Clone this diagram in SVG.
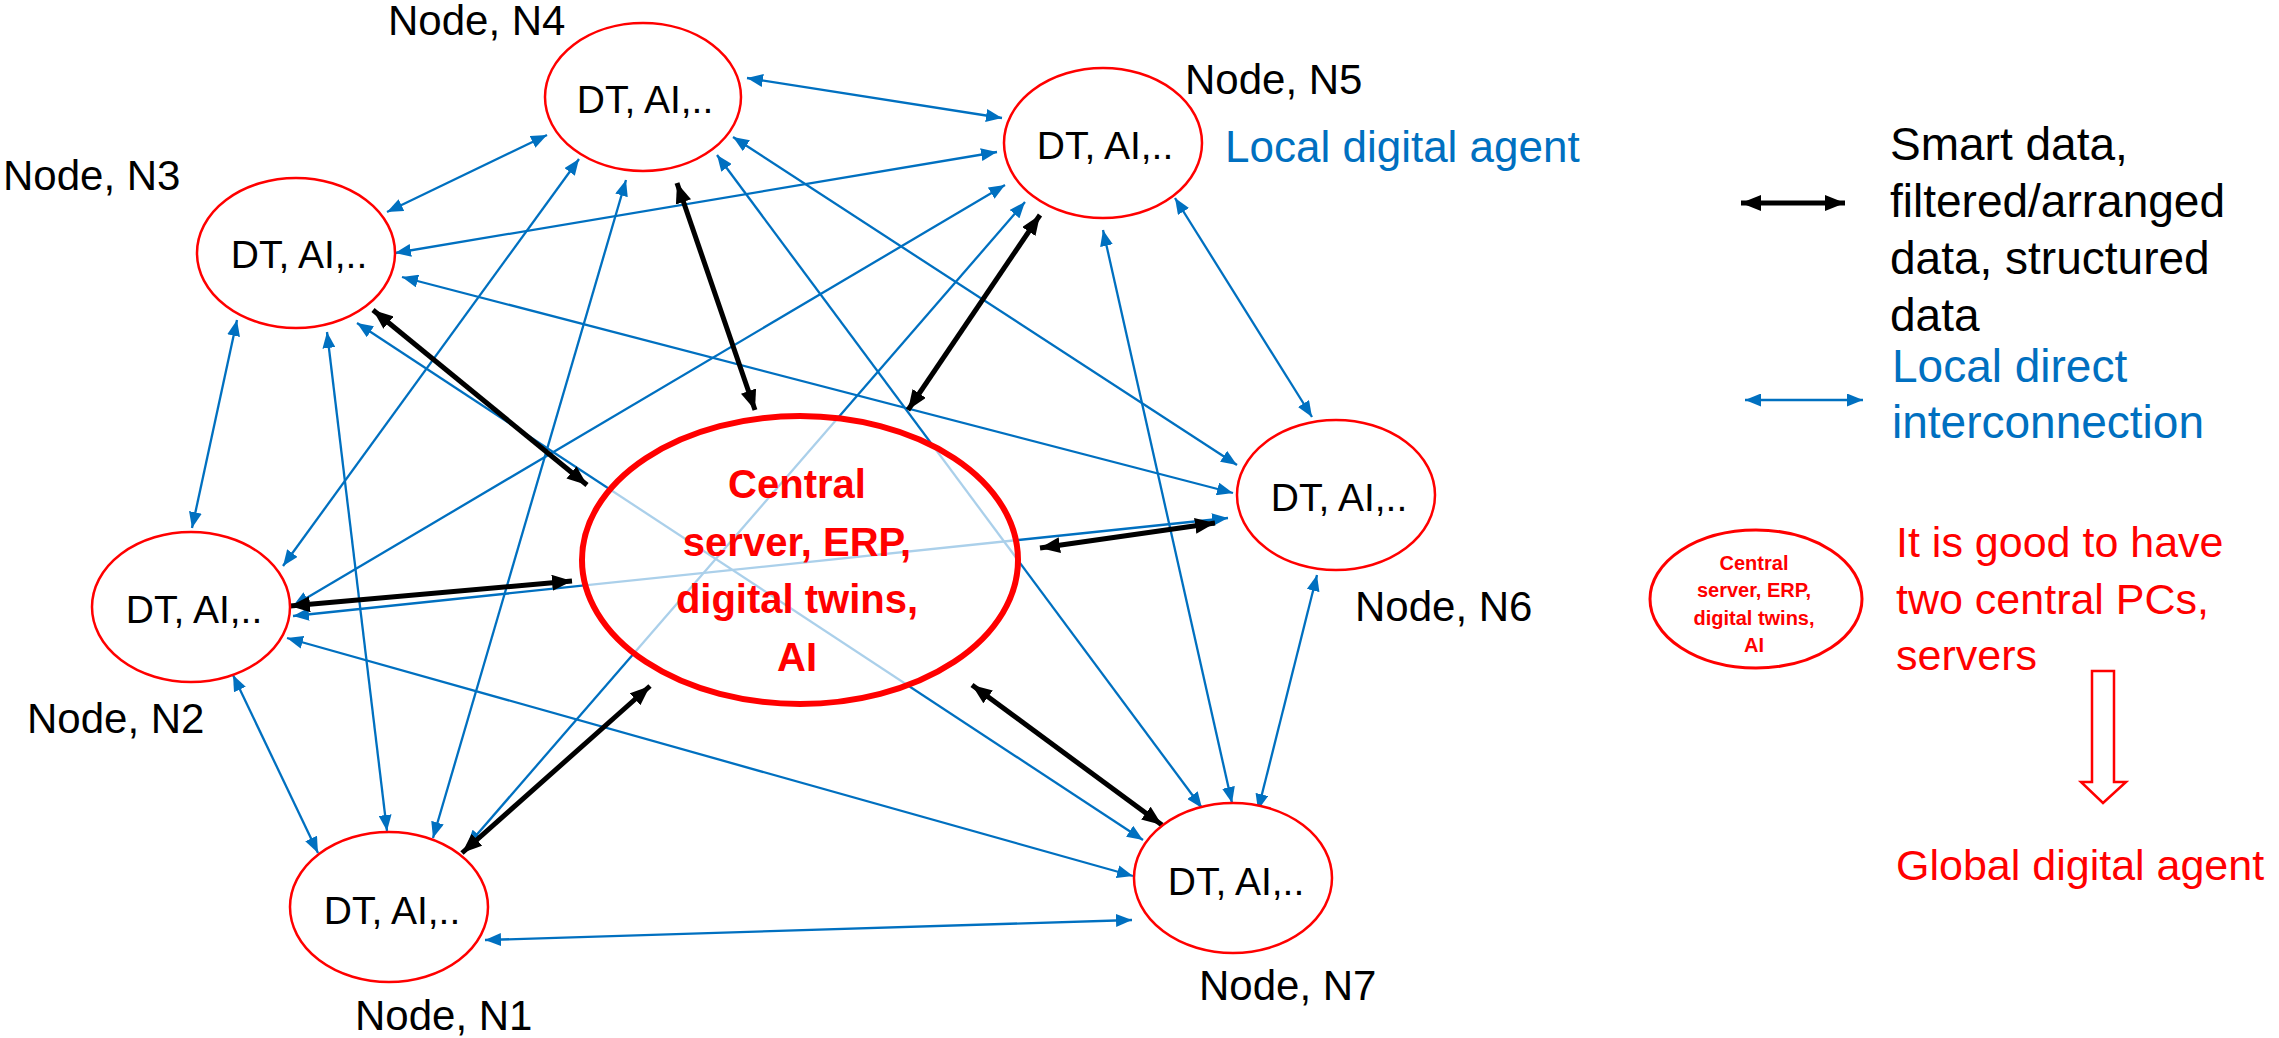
<svg xmlns="http://www.w3.org/2000/svg" width="2279" height="1038" viewBox="0 0 2279 1038">
<style>
  text { font-family: "Liberation Sans", Arial, sans-serif; }
  .node { fill: #ffffff; stroke: #FF0000; stroke-width: 2.5; }
  .dt { font-size: 39px; fill: #000; text-anchor: middle; }
  .lbl { font-size: 42px; fill: #000; }
  .blue { stroke: #0070C0; stroke-width: 2.3; fill: none; marker-start: url(#bh); marker-end: url(#bh); }
  .black { stroke: #000; stroke-width: 5; fill: none; marker-start: url(#kh); marker-end: url(#kh); }
  .ctr { font-size: 40px; font-weight: bold; fill: #FF0000; text-anchor: middle; }
  .leg { font-size: 46px; fill: #000; }
  .legb { font-size: 46px; fill: #0070C0; }
  .red { font-size: 43px; fill: #FF0000; }
  .sm { font-size: 20px; font-weight: bold; fill: #FF0000; text-anchor: middle; }
</style>
<defs>
  <marker id="bh" markerUnits="userSpaceOnUse" viewBox="0 0 16 13" markerWidth="16" markerHeight="13" refX="16" refY="6.5" orient="auto-start-reverse">
    <path d="M0,0 L16,6.5 L0,13 z" fill="#0070C0"/>
  </marker>
  <marker id="kh" markerUnits="userSpaceOnUse" viewBox="0 0 20 16" markerWidth="20" markerHeight="16" refX="20" refY="8" orient="auto-start-reverse">
    <path d="M0,0 L20,8 L0,16 z" fill="#000"/>
  </marker>
</defs>
<rect x="0" y="0" width="2279" height="1038" fill="#ffffff"/>

<g id="connectors">
  <line class="blue" x1="747" y1="78" x2="1002" y2="118"/>
  <line class="blue" x1="387" y1="212" x2="547" y2="135"/>
  <line class="blue" x1="395" y1="253" x2="997" y2="152"/>
  <line class="blue" x1="402" y1="277" x2="1233" y2="493"/>
  <line class="blue" x1="357" y1="323" x2="1143" y2="840"/>
  <line class="blue" x1="327" y1="332" x2="387" y2="831"/>
  <line class="blue" x1="237" y1="320" x2="192" y2="528"/>
  <line class="blue" x1="579" y1="159" x2="283" y2="566"/>
  <line class="blue" x1="626" y1="180" x2="433" y2="838"/>
  <line class="blue" x1="733" y1="137" x2="1237" y2="465"/>
  <line class="blue" x1="717" y1="155" x2="1202" y2="808"/>
  <line class="blue" x1="1005" y1="185" x2="293" y2="606"/>
  <line class="blue" x1="1025" y1="202" x2="467" y2="846"/>
  <line class="blue" x1="1175" y1="198" x2="1312" y2="417"/>
  <line class="blue" x1="1103" y1="230" x2="1232" y2="803"/>
  <line class="blue" x1="1317" y1="575" x2="1258" y2="810"/>
  <line class="blue" x1="1228" y1="518" x2="293" y2="616"/>
  <line class="blue" x1="1133" y1="876" x2="287" y2="638"/>
  <line class="blue" x1="1132" y1="920" x2="485" y2="940"/>
  <line class="blue" x1="233" y1="675" x2="318" y2="853"/>
</g>

<g id="central">
  <ellipse cx="800" cy="560" rx="218" ry="144" fill="#ffffff" fill-opacity="0.67" stroke="#FF0000" stroke-width="6"/>
  <text class="ctr" x="797" y="498">Central</text>
  <text class="ctr" x="797" y="556">server, ERP,</text>
  <text class="ctr" x="797" y="613">digital twins,</text>
  <text class="ctr" x="797" y="671">AI</text>
</g>

<g id="data-links">
  <line class="black" x1="677" y1="183" x2="755" y2="410"/>
  <line class="black" x1="1040" y1="215" x2="908" y2="410"/>
  <line class="black" x1="1215" y1="523" x2="1040" y2="548"/>
  <line class="black" x1="1162" y1="825" x2="972" y2="685"/>
  <line class="black" x1="462" y1="853" x2="650" y2="686"/>
  <line class="black" x1="290" y1="606" x2="572" y2="581"/>
  <line class="black" x1="373" y1="310" x2="587" y2="485"/>
</g>

<g id="n4">
  <ellipse class="node" cx="643" cy="97" rx="98" ry="74"/>
  <text class="dt" x="645" y="113">DT, AI,..</text>
  <text class="lbl" x="388" y="35">Node, N4</text>
</g>
<g id="n5">
  <ellipse class="node" cx="1103" cy="143" rx="99" ry="75"/>
  <text class="dt" x="1105" y="159">DT, AI,..</text>
  <text class="lbl" x="1185" y="94">Node, N5</text>
  <text x="1225" y="162" font-size="44" fill="#0070C0">Local digital agent</text>
</g>
<g id="n3">
  <ellipse class="node" cx="296" cy="253" rx="99" ry="75"/>
  <text class="dt" x="299" y="268">DT, AI,..</text>
  <text class="lbl" x="3" y="190">Node, N3</text>
</g>
<g id="n2">
  <ellipse class="node" cx="191" cy="607" rx="99" ry="75"/>
  <text class="dt" x="194" y="623">DT, AI,..</text>
  <text class="lbl" x="27" y="733">Node, N2</text>
</g>
<g id="n1">
  <ellipse class="node" cx="389" cy="907" rx="99" ry="75"/>
  <text class="dt" x="392" y="924">DT, AI,..</text>
  <text class="lbl" x="355" y="1030">Node, N1</text>
</g>
<g id="n6">
  <ellipse class="node" cx="1336" cy="495" rx="99" ry="75"/>
  <text class="dt" x="1339" y="511">DT, AI,..</text>
  <text class="lbl" x="1355" y="621">Node, N6</text>
</g>
<g id="n7">
  <ellipse class="node" cx="1233" cy="878" rx="99" ry="75"/>
  <text class="dt" x="1236" y="895">DT, AI,..</text>
  <text class="lbl" x="1199" y="1000">Node, N7</text>
</g>

<g id="legend">
  <line class="black" x1="1741" y1="203" x2="1845" y2="203"/>
  <text class="leg" x="1890" y="160">Smart data,</text>
  <text class="leg" x="1890" y="217">filtered/arranged</text>
  <text class="leg" x="1890" y="274">data, structured</text>
  <text class="leg" x="1890" y="331">data</text>
  <line class="blue" x1="1745" y1="400" x2="1863" y2="400" stroke-width="3"/>
  <text class="legb" x="1892" y="382">Local direct</text>
  <text class="legb" x="1892" y="438">interconnection</text>
</g>

<g id="global-agent">
  <ellipse cx="1756" cy="599" rx="106" ry="69" fill="#ffffff" stroke="#FF0000" stroke-width="3"/>
  <text class="sm" x="1754" y="570">Central</text>
  <text class="sm" x="1754" y="597">server, ERP,</text>
  <text class="sm" x="1754" y="625">digital twins,</text>
  <text class="sm" x="1754" y="652">AI</text>
  <text class="red" x="1896" y="557">It is good to have</text>
  <text class="red" x="1896" y="614">two central PCs,</text>
  <text class="red" x="1896" y="670">servers</text>
  <path d="M2092,671 L2114,671 L2114,782 L2126,782 L2103,803 L2081,782 L2092,782 z" fill="#ffffff" stroke="#FF0000" stroke-width="2.5"/>
  <text class="red" x="1896" y="880">Global digital agent</text>
</g>
</svg>
